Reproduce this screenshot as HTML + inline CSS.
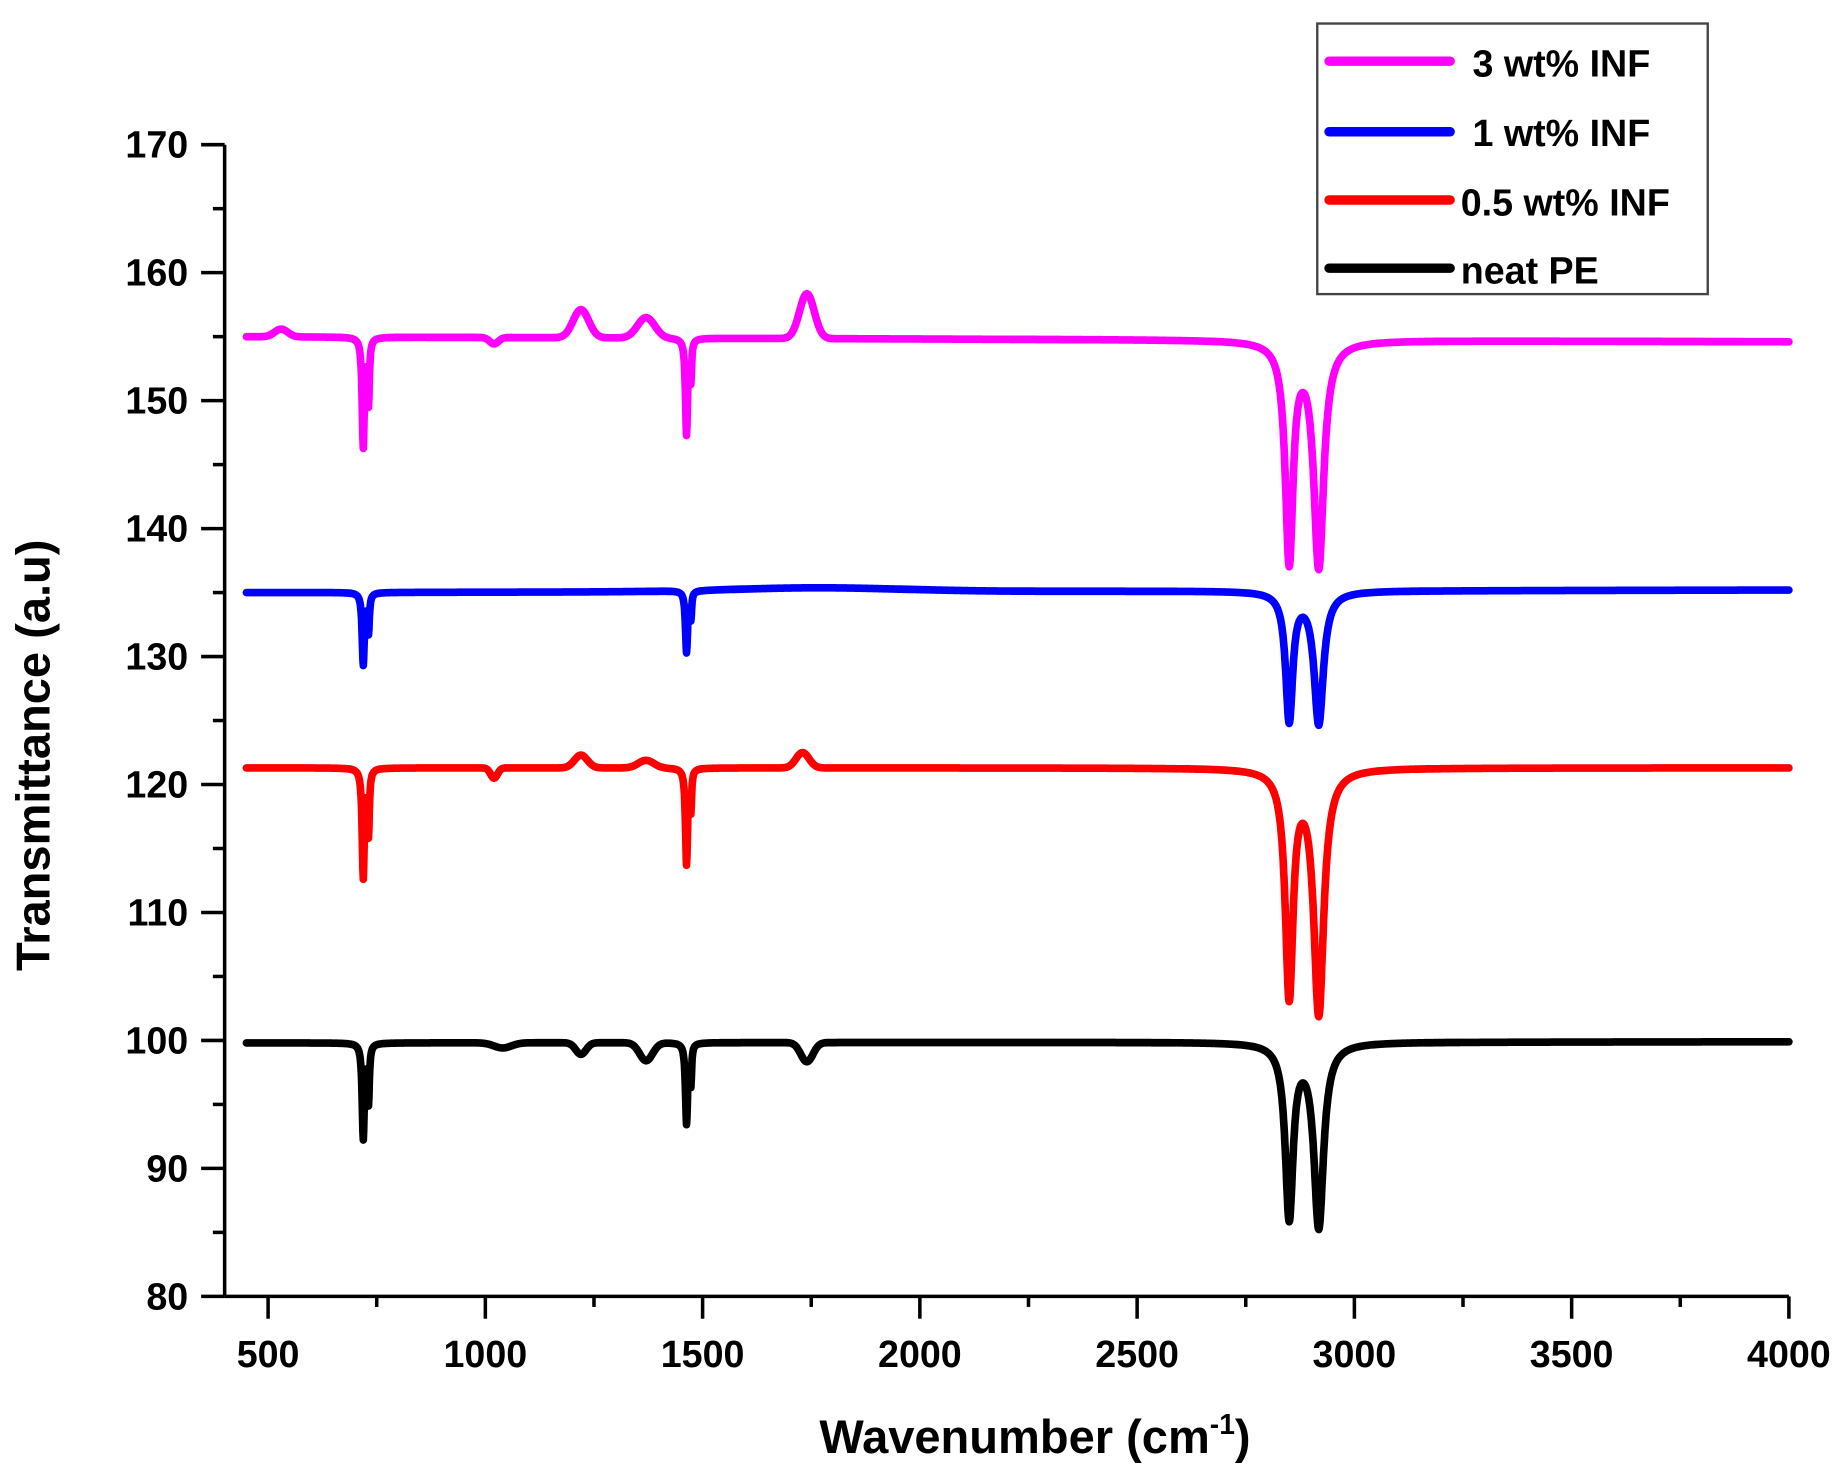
<!DOCTYPE html>
<html><head><meta charset="utf-8"><style>
html,body{margin:0;padding:0;background:#fff;}
svg{display:block;}
text{font-family:"Liberation Sans",Arial,sans-serif;font-weight:bold;fill:#000;}
</style></head><body>
<svg id="c" width="1843" height="1474" viewBox="0 0 1567 1253" preserveAspectRatio="none" xmlns="http://www.w3.org/2000/svg">
<rect width="1567" height="1253" fill="#fff"/>
<g id="axes" stroke="#000" stroke-width="3" fill="none"></g>
<g id="series" fill="none" stroke-linejoin="round" stroke-linecap="round"></g>
<g id="labels" font-size="32"></g>
<text x="880" y="1235" font-size="40" text-anchor="middle">Wavenumber (cm<tspan dy="-16" font-size="24">-1</tspan><tspan dy="16">)</tspan></text>
<text transform="translate(42,642) rotate(-90)" font-size="40" text-anchor="middle">Transmittance (a.u)</text>
<rect x="1120" y="20" width="332" height="230" fill="#fff" stroke="#444" stroke-width="2"/>
<g stroke-width="8" stroke-linecap="round">
<line x1="1130" y1="52" x2="1233" y2="52" stroke="#ff00ff"/>
<line x1="1130" y1="112" x2="1233" y2="112" stroke="#0000ff"/>
<line x1="1130" y1="170" x2="1233" y2="170" stroke="#ff0000"/>
<line x1="1130" y1="228" x2="1233" y2="228" stroke="#000"/>
</g>
<g font-size="32">
<text x="1252" y="65">3 wt% INF</text>
<text x="1252" y="124">1 wt% INF</text>
<text x="1242" y="183">0.5 wt% INF</text>
<text x="1242" y="241">neat PE</text>
</g>
</svg>
<script>
var NS="http://www.w3.org/2000/svg";
function X(w){return 191+(w-400)*1330/3600;}
function Y(v){return 1102-(v-80)*979/90;}
function el(p,t,a,txt){var e=document.createElementNS(NS,t);for(var k in a)e.setAttribute(k,a[k]);if(txt!==undefined)e.textContent=txt;document.getElementById(p).appendChild(e);}
el("axes","line",{x1:191,y1:1102,x2:1521,y2:1102});
el("axes","line",{x1:191,y1:123,x2:191,y2:1102});
for(var w=500;w<=4000;w+=250){var maj=(w%500==0);el("axes","line",{x1:X(w),y1:1102,x2:X(w),y2:maj?1121:1111});
 if(maj)el("labels","text",{x:X(w),y:1162,"text-anchor":"middle"},w);}
for(var v=80;v<=170;v+=5){var maj=(v%10==0);el("axes","line",{x1:maj?171:181,y1:Y(v),x2:191,y2:Y(v)});
 if(maj)el("labels","text",{x:160,y:Y(v)+11,"text-anchor":"end"},v);}
function L(w,c,g){var d=(w-c)/g;return 1/(1+d*d);}
function G(w,c,s){var d=(w-c)/s;return Math.exp(-d*d/2);}
var S=[
{col:"#ff00ff",b:155,p:[[719,-8.5,3],[731,-5,2.5],[1220,2.2,-18],[1370,1.6,-20],[1463,-7.5,3],[1473,-3,2],[1740,3.5,-17],[2850,-17,11],[2918,-17.5,14],[1020,-0.5,-10],[530,0.6,-15]],end:154.6},
{col:"#0000ff",b:135,p:[[719,-5.6,3],[731,-3,2.5],[1463,-4.8,3],[1473,-2,2],[2850,-10,10],[2918,-10.3,13],[1760,0.3,-200]],end:135.2},
{col:"#ff0000",b:121.3,p:[[719,-8.5,3],[731,-5,2.5],[1220,1,-15],[1370,0.6,-18],[1730,1.2,-15],[1020,-0.8,-8],[1463,-7.5,3],[1473,-3,2],[2850,-17.5,11],[2918,-19,14]],end:121.3},
{col:"#000000",b:99.8,p:[[719,-7.4,3],[731,-4.5,2.5],[1220,-0.9,-12],[1370,-1.4,-15],[1463,-6.3,3],[1473,-3,2],[1740,-1.5,-14],[2850,-13.5,11],[2918,-14.3,13.5],[1040,-0.4,-20]],end:99.9}
];
S.forEach(function(s){var d="";for(var w=450;w<=4000;w+=1){var v=s.b+(s.end-s.b)*(w-450)/3550;
 s.p.forEach(function(q){v+=q[2]>0?q[1]*L(w,q[0],q[2]):q[1]*G(w,q[0],-q[2]);});
 d+=(w==450?"M":"L")+X(w).toFixed(1)+","+Y(v).toFixed(1);}
 el("series","path",{d:d,stroke:s.col,"stroke-width":6.5});});
</script>
</body></html>
